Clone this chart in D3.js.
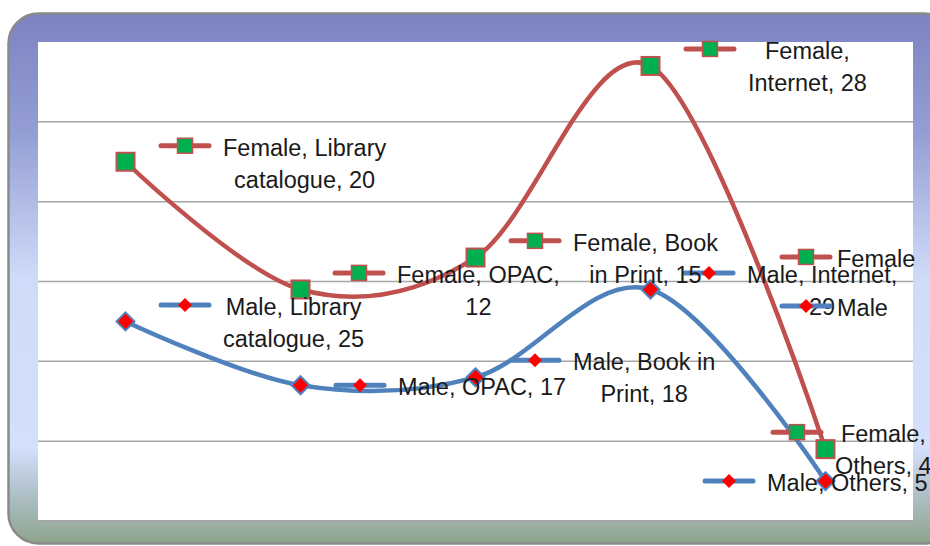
<!DOCTYPE html>
<html>
<head>
<meta charset="utf-8">
<script src="https://cdn.jsdelivr.net/npm/d3@7"></script>
<style>
  body { margin: 0; background: #fff; }
  svg { display: block; }
</style>
</head>
<body>
<script>
// Data
const categories = ["Library catalogue", "OPAC", "Book in Print", "Internet", "Others"];
const maleValues = [25, 17, 18, 29, 5];
const femaleValues = [20, 12, 15, 28, 4];
const yTicks = [0, 10, 20, 30, 40, 50, 60];

// Data label layout (offset of the legend key from its point)
const maleLabels = [
  { i: 0, lines: ["Male, Library", "catalogue, 25"], dx: 59.5, dy: -16.5 },
  { i: 1, lines: ["Male, OPAC, 17"], dx: 59.5, dy: 0 },
  { i: 2, lines: ["Male, Book in", "Print, 18"], dx: 59.5, dy: -17 },
  { i: 3, lines: ["Male, Internet,", "29"], dx: 58.5, dy: -16.6 },
  { i: 3, lines: ["Male"], dx: 155.5, dy: 16.4, gap: 5 },
  { i: 4, lines: ["Male, Others, 5"], dx: -96.5, dy: 0 }
];
const femaleLabels = [
  { i: 0, lines: ["Female, Library", "catalogue, 20"], dx: 59.5, dy: -16 },
  { i: 1, lines: ["Female, OPAC,", "12"], dx: 58.5, dy: -16.6 },
  { i: 2, lines: ["Female, Book", "in Print, 15"], dx: 59.5, dy: -16.7 },
  { i: 3, lines: ["Female,", "Internet, 28"], dx: 59.5, dy: -17 },
  { i: 3, lines: ["Female"], dx: 155.5, dy: 191, gap: 5 },
  { i: 4, lines: ["Female,", "Others, 4"], dx: -28.5, dy: -17 }
];

const width = 930, height = 546;
const plot = { left: 38, top: 42, right: 913, bottom: 521 };
const font = "'Liberation Sans', Arial, sans-serif";

const svg = d3.select("body").append("svg")
  .attr("width", width)
  .attr("height", height);

// Frame gradient
const defs = svg.append("defs");
const grad = defs.append("linearGradient")
  .attr("id", "frameGrad")
  .attr("x1", 0).attr("y1", 0).attr("x2", 0).attr("y2", 1);
grad.append("stop").attr("offset", "0%").attr("stop-color", "#7d83c1");
grad.append("stop").attr("offset", "22%").attr("stop-color", "#949dd3");
grad.append("stop").attr("offset", "50%").attr("stop-color", "#d0dbf9");
grad.append("stop").attr("offset", "82%").attr("stop-color", "#d4dffb");
grad.append("stop").attr("offset", "90%").attr("stop-color", "#b2c2cc");
grad.append("stop").attr("offset", "100%").attr("stop-color", "#8ea48c");

svg.append("rect")
  .attr("x", 8.5)
  .attr("y", 13.5)
  .attr("width", 945)
  .attr("height", 530)
  .attr("rx", 30)
  .attr("fill", "url(#frameGrad)")
  .attr("stroke", "#8a8a8a")
  .attr("stroke-width", 2.5);

// Plot area
svg.append("rect")
  .attr("x", plot.left)
  .attr("y", plot.top)
  .attr("width", plot.right - plot.left)
  .attr("height", plot.bottom - plot.top)
  .attr("fill", "#ffffff");

// Scales
const x = d3.scaleBand()
  .domain(categories)
  .range([plot.left, plot.right]);

const y = d3.scaleLinear()
  .domain([0, 60])
  .range([plot.bottom, plot.top]);

// Gridlines
svg.append("g")
  .selectAll("line")
  .data(yTicks.filter(t => t > 0 && t < 60))
  .enter()
  .append("line")
  .attr("x1", plot.left)
  .attr("x2", plot.right)
  .attr("y1", d => y(d))
  .attr("y2", d => y(d))
  .attr("stroke", "#a6a6a6")
  .attr("stroke-width", 1.5);

// Category axis line
svg.append("line")
  .attr("x1", plot.left)
  .attr("x2", plot.right)
  .attr("y1", y(0))
  .attr("y2", y(0))
  .attr("stroke", "#a6a6a6")
  .attr("stroke-width", 2);

// Stacked series
const malePts = categories.map((c, i) => ({ x: x(c) + x.bandwidth() / 2, y: y(maleValues[i]) }));
const femalePts = categories.map((c, i) => ({ x: x(c) + x.bandwidth() / 2, y: y(maleValues[i] + femaleValues[i]) }));

const line = d3.line()
  .x(d => d.x)
  .y(d => d.y)
  .curve(d3.curveCardinal.tension(0));

const series = [
  { name: "Male", pts: malePts, color: "#4f81bd", labels: maleLabels },
  { name: "Female", pts: femalePts, color: "#c0504d", labels: femaleLabels }
];

function drawMarker(g, s, cx, cy, big) {
  if (s.name === "Female") {
    const h = big ? 9 : 7.5;
    g.append("rect")
      .attr("x", cx - h).attr("y", cy - h)
      .attr("width", h * 2).attr("height", h * 2)
      .attr("fill", "#00b050")
      .attr("stroke", s.color)
      .attr("stroke-width", big ? 2 : 1.5);
  } else {
    const h = big ? 9 : 7;
    g.append("path")
      .attr("d", `M${cx},${cy - h}L${cx + h},${cy}L${cx},${cy + h}L${cx - h},${cy}Z`)
      .attr("fill", "#ff0000")
      .attr("stroke", big ? s.color : "none")
      .attr("stroke-width", 2);
  }
}

series.forEach(s => {
  svg.append("path")
    .attr("d", line(s.pts))
    .attr("fill", "none")
    .attr("stroke", s.color)
    .attr("stroke-width", 4.5)
    .attr("stroke-linecap", "round");
});

series.forEach(s => {
  const g = svg.append("g");
  s.pts.forEach(p => drawMarker(g, s, p.x, p.y, true));
});

// Data labels with legend keys
const labelLayer = svg.append("g");
series.forEach(s => {
  s.labels.forEach(lab => {
    const p = s.pts[lab.i];
    const kx = p.x + lab.dx, ky = p.y + lab.dy;
    const g = labelLayer.append("g");
    g.append("line")
      .attr("x1", kx - 24).attr("x2", kx + 24)
      .attr("y1", ky).attr("y2", ky)
      .attr("stroke", s.color)
      .attr("stroke-width", 5)
      .attr("stroke-linecap", "round");
    drawMarker(g, s, kx, ky, false);

    const texts = lab.lines.map((t, j) => g.append("text")
      .attr("y", ky + 2 + j * 32)
      .attr("dominant-baseline", "central")
      .attr("text-anchor", "middle")
      .attr("font-family", font)
      .attr("font-size", "23.5px")
      .attr("fill", "#1a1a1a")
      .text(t));
    const w = d3.max(texts, t => t.node().getComputedTextLength());
    const cx = kx + 26 + (lab.gap !== undefined ? lab.gap : 12) + w / 2;
    texts.forEach(t => t.attr("x", cx));
  });
});
</script>
</body>
</html>
